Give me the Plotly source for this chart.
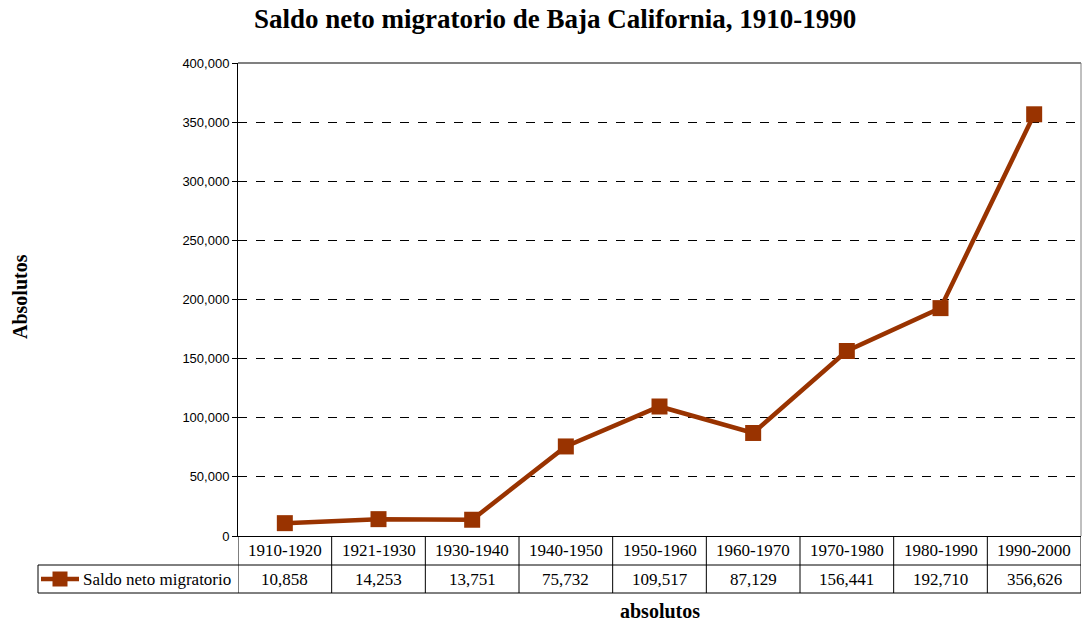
import plotly.graph_objects as go

categories = ["1910-1920", "1921-1930", "1930-1940", "1940-1950", "1950-1960",
              "1960-1970", "1970-1980", "1980-1990", "1990-2000"]
values = [10858, 14253, 13751, 75732, 109517, 87129, 156441, 192710, 356626]
series_name = "Saldo neto migratorio"
y_ticks = [0, 50000, 100000, 150000, 200000, 250000, 300000, 350000, 400000]

W, H = 1083, 626
X0, X1 = 238, 1081        # plot area pixel bounds
YT, YB = 63, 536
ROW1, ROW2 = 565, 593
LEG_X = 38
COLOR = "#993300"
SERIF = "Liberation Serif, Times New Roman, serif"
SANS = "Liberation Sans, Arial, sans-serif"

def px(x):
    return x / W

def py(y):
    return 1 - y / H

n = len(categories)
xs = list(range(n))

fig = go.Figure()
fig.add_trace(go.Scatter(
    x=xs, y=values, mode="lines+markers", name=series_name,
    line=dict(color=COLOR, width=4.5),
    marker=dict(symbol="square", size=16, color=COLOR),
    showlegend=False, cliponaxis=False,
))

shapes = []
line_k = dict(color="black", width=1)
shapes.append(dict(type="line", xref="paper", yref="paper", x0=px(X0), x1=px(X1), y0=py(YT), y1=py(YT),
                   line=dict(color="#808080", width=2)))
shapes.append(dict(type="line", xref="paper", yref="paper", x0=px(X1), x1=px(X1), y0=py(YT), y1=py(YB),
                   line=dict(color="#808080", width=1)))
shapes.append(dict(type="line", xref="paper", yref="paper", x0=px(LEG_X), x1=px(X1), y0=py(ROW1), y1=py(ROW1), line=line_k))
shapes.append(dict(type="line", xref="paper", yref="paper", x0=px(LEG_X), x1=px(X1), y0=py(ROW2), y1=py(ROW2), line=line_k))
shapes.append(dict(type="line", xref="paper", yref="paper", x0=px(LEG_X), x1=px(LEG_X), y0=py(ROW1), y1=py(ROW2), line=line_k))
for i in range(n + 1):
    shapes.append(dict(type="line", xref="x", yref="paper", x0=i - 0.5, x1=i - 0.5,
                       y0=py(YB), y1=py(ROW2), line=line_k))
ky = (ROW1 + ROW2) / 2
shapes.append(dict(type="line", xref="paper", yref="paper", x0=px(41), x1=px(79), y0=py(ky), y1=py(ky),
                   line=dict(color=COLOR, width=4.5)))
shapes.append(dict(type="rect", xref="paper", yref="paper", x0=px(52.5), x1=px(67.5), y0=py(ky - 7.5), y1=py(ky + 7.5),
                   line=dict(width=0), fillcolor=COLOR))

tf = dict(family=SERIF, size=17, color="black")
annotations = []
for i, (c, v) in enumerate(zip(categories, values)):
    annotations.append(dict(x=i, xref="x", y=py((YB + ROW1) / 2), yref="paper", text=c, showarrow=False,
                            xanchor="center", yanchor="middle", font=tf))
    annotations.append(dict(x=i, xref="x", y=py((ROW1 + ROW2) / 2), yref="paper", text=f"{v:,}", showarrow=False,
                            xanchor="center", yanchor="middle", font=tf))
annotations.append(dict(x=px(81), xref="paper", y=py(ky), yref="paper", text=series_name, showarrow=False,
                        xanchor="left", yanchor="middle", font=tf))
annotations.append(dict(x=px(555), xref="paper", y=py(19), yref="paper",
                        text="<b>Saldo neto migratorio de Baja California, 1910-1990</b>", showarrow=False,
                        xanchor="center", yanchor="middle", font=dict(family=SERIF, size=27, color="black")))
annotations.append(dict(x=px(20), xref="paper", y=py(297), yref="paper", text="<b>Absolutos</b>",
                        showarrow=False, textangle=-90, xanchor="center", yanchor="middle",
                        font=dict(family=SERIF, size=20, color="black")))
annotations.append(dict(x=px(660), xref="paper", y=py(611), yref="paper", text="<b>absolutos</b>",
                        showarrow=False, xanchor="center", yanchor="middle",
                        font=dict(family=SERIF, size=20, color="black")))

fig.update_layout(
    width=W, height=H,
    margin=dict(l=0, r=0, t=0, b=0, autoexpand=False),
    paper_bgcolor="white", plot_bgcolor="white",
    shapes=shapes, annotations=annotations,
    xaxis=dict(domain=[px(X0), px(X1)], range=[-0.5, n - 0.5], showticklabels=False,
               showgrid=False, zeroline=False, showline=True, linecolor="black", linewidth=1,
               ticks="", fixedrange=True, automargin=False),
    yaxis=dict(domain=[py(YB), py(YT)], range=[0, 400000], tickvals=y_ticks, tickformat=",",
               showgrid=True, gridcolor="black", griddash="dash", gridwidth=1,
               zeroline=False, showline=True, linecolor="black", linewidth=1,
               ticks="outside", ticklen=5, tickcolor="black", automargin=False,
               tickfont=dict(family=SANS, size=13, color="black"), fixedrange=True),
)

fig.write_html("out.html", config={"displayModeBar": False},
               post_script="document.body.style.margin='0';document.body.style.overflow='hidden';")
